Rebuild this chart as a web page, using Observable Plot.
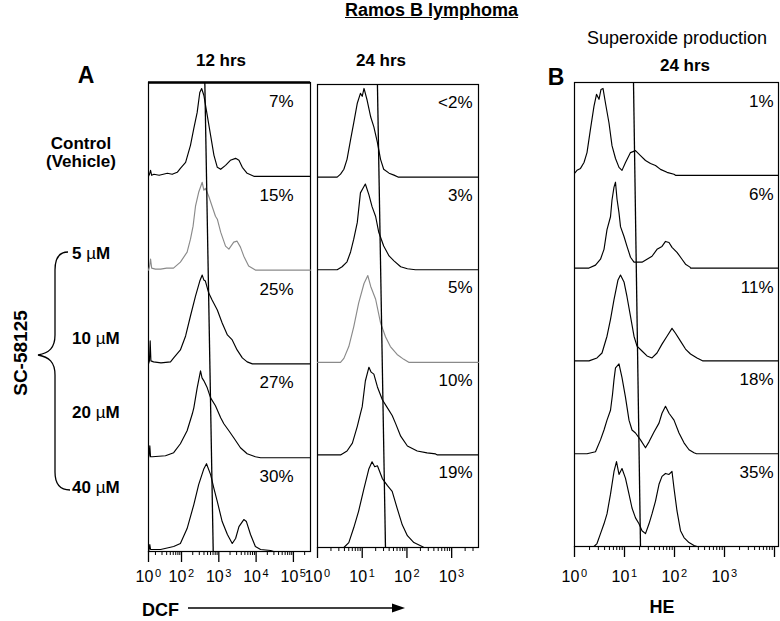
<!DOCTYPE html>
<html><head><meta charset="utf-8">
<script src="https://cdn.jsdelivr.net/npm/d3@7"></script>
<script src="https://cdn.jsdelivr.net/npm/@observablehq/plot@0.6"></script>
<style>
body{margin:0;background:#fff;}
#fig{position:relative;width:780px;height:621px;font-family:"Liberation Sans",Arial,Helvetica,sans-serif;color:#000;overflow:hidden;background:#fff}
.t{position:absolute;white-space:nowrap;line-height:1;transform:translate(-50%,-50%)}
.l{transform:translate(0,-50%)}
.b{font-weight:bold}
.p{position:absolute}
</style></head><body><div id="fig"></div>
<script>
// ---------------- DATA ----------------
// x = log10 position on each panel's axis (decades), h = relative cell count (row height = 94)
const conditions = ["Control (Vehicle)", "5 µM", "10 µM", "20 µM", "40 µM"];

// DCF, 12 hrs
const dcf12_control = [[0.115,0],[0.14,2],[0.17,6],[0.2,1],[0.26,2],[0.4,1],[0.62,3],[0.75,2],[0.885,4],[0.97,8],[1.11,14],[1.24,31],[1.33,48],[1.42,64],[1.49,84],[1.54,88],[1.60,81],[1.69,61],[1.78,41],[1.87,21],[1.96,9],[2.05,7],[2.18,11],[2.31,16],[2.45,18],[2.54,16],[2.63,9],[2.76,3],[2.94,0]];
const dcf12_5uM = [[0.115,0],[0.14,3],[0.17,11],[0.2,2],[0.3,1],[0.44,1],[0.6,2],[0.785,2],[0.97,8],[1.15,18],[1.24,31],[1.31,44],[1.375,64],[1.46,78],[1.555,88],[1.60,80],[1.64,82],[1.73,74],[1.82,64],[1.91,54],[1.96,51],[2.05,38],[2.18,24],[2.27,21],[2.40,28],[2.49,29],[2.58,23],[2.67,14],[2.80,4],[2.98,0]];
const dcf12_10uM = [[0.115,0],[0.14,3],[0.16,23],[0.18,3],[0.25,2],[0.45,1],[0.705,2],[0.79,6],[0.97,14],[1.11,28],[1.24,48],[1.375,68],[1.49,83],[1.555,89],[1.60,84],[1.64,83],[1.73,71],[1.82,64],[1.96,54],[2.09,41],[2.23,29],[2.36,24],[2.49,14],[2.63,6],[2.76,2],[2.90,0]];
const dcf12_20uM = [[0.115,0],[0.13,2],[0.15,12],[0.17,1],[0.22,1],[0.57,2],[0.79,5],[0.97,14],[1.15,27],[1.29,44],[1.33,50],[1.42,70],[1.51,87],[1.55,80],[1.60,77],[1.69,70],[1.78,60],[1.91,52],[2.05,40],[2.135,34],[2.27,27],[2.40,20],[2.58,10],[2.76,4],[2.98,1],[3.12,0]];
const dcf12_40uM = [[0.115,0],[0.13,2],[0.15,7],[0.17,2],[0.44,2],[0.79,5],[0.97,8],[1.15,23],[1.33,47],[1.46,67],[1.60,83],[1.67,88],[1.78,77],[1.87,63],[1.96,50],[2.09,30],[2.23,17],[2.36,8],[2.45,13],[2.54,25],[2.67,32],[2.74,30],[2.85,17],[2.98,5],[3.12,2],[3.39,1],[3.47,0]];
const pct12 = ["7%", "15%", "25%", "27%", "30%"];
const gate12 = [1.625, 1.85];
const ticks12 = [0.115, 1, 2, 3, 4];
const tickExp12 = ["0", "2", "3", "4", "5"];

// DCF, 24 hrs
const dcf24_control = [[0,0],[0.44,0],[0.515,3],[0.59,8],[0.66,18],[0.74,38],[0.81,55],[0.89,75],[0.96,85],[1.0,82],[1.04,90],[1.11,78],[1.19,61],[1.26,51],[1.34,35],[1.41,18],[1.48,8],[1.60,4],[1.71,2],[1.80,0]];
const dcf24_5uM = [[0,0],[0.44,0],[0.55,3],[0.66,8],[0.74,18],[0.81,31],[0.89,48],[0.96,78],[1.02,83],[1.07,87],[1.15,76],[1.22,64],[1.30,54],[1.37,38],[1.48,24],[1.60,14],[1.71,9],[1.86,3],[2.01,1],[2.19,0]];
const dcf24_10uM = [[0,0],[0.515,0],[0.59,4],[0.70,16],[0.81,36],[0.92,60],[1.04,80],[1.125,88],[1.19,77],[1.30,64],[1.41,40],[1.52,26],[1.63,16],[1.78,8],[1.93,3],[2.04,0]];
const dcf24_20uM = [[0,0],[0.515,0],[0.66,4],[0.78,12],[0.89,29],[0.96,42],[1.00,49],[1.07,75],[1.15,89],[1.20,84],[1.26,82],[1.34,69],[1.45,56],[1.56,48],[1.67,40],[1.745,32],[1.86,19],[2.01,9],[2.23,4],[2.45,2],[2.64,1],[2.68,0]];
const dcf24_40uM = [[0,0],[0.59,0],[0.70,5],[0.81,20],[0.92,37],[1.04,60],[1.15,80],[1.22,87],[1.28,82],[1.34,83],[1.45,70],[1.56,63],[1.67,57],[1.78,40],[1.895,23],[2.01,12],[2.155,5],[2.34,1],[2.38,0]];
const pct24 = ["<2%", "3%", "5%", "10%", "19%"];
const gate24 = [1.34, 1.52];
const ticks24 = [0, 1, 2, 3];
const tickExp24 = ["0", "1", "2", "3"];

// HE (superoxide), 24 hrs
const he_control = [[0,2],[0.05,5],[0.12,7],[0.19,13],[0.25,23],[0.32,47],[0.39,70],[0.44,82],[0.49,77],[0.53,87],[0.57,88],[0.62,73],[0.69,53],[0.75,30],[0.82,17],[0.89,8],[0.95,5],[1.02,13],[1.12,23],[1.22,25],[1.32,20],[1.42,15],[1.52,12],[1.62,10],[1.72,6],[1.85,3],[1.99,1],[2.02,0]];
const he_5uM = [[0,0],[0.29,0],[0.42,3],[0.52,9],[0.59,19],[0.65,39],[0.72,52],[0.75,69],[0.79,82],[0.82,87],[0.85,70],[0.89,56],[0.92,42],[0.99,32],[1.05,22],[1.12,11],[1.19,6],[1.35,6],[1.45,9],[1.55,12],[1.65,19],[1.75,22],[1.82,27],[1.89,26],[1.95,21],[2.05,16],[2.15,9],[2.22,4],[2.31,1],[2.32,0]];
const he_10uM = [[0,0],[0.29,0],[0.45,3],[0.55,8],[0.65,25],[0.72,42],[0.79,62],[0.87,82],[0.92,87],[0.99,80],[1.05,65],[1.12,45],[1.19,25],[1.25,15],[1.35,10],[1.45,5],[1.55,3],[1.65,8],[1.75,17],[1.85,25],[1.95,33],[2.02,28],[2.12,20],[2.22,12],[2.32,7],[2.45,3],[2.57,0]];
const he_20uM = [[0,0],[0.25,0],[0.42,2],[0.52,14],[0.59,24],[0.65,34],[0.72,44],[0.76,60],[0.79,75],[0.82,87],[0.89,91],[0.95,77],[1.02,57],[1.09,34],[1.15,24],[1.22,21],[1.32,14],[1.42,6],[1.49,12],[1.59,22],[1.69,31],[1.75,41],[1.82,48],[1.89,41],[1.99,34],[2.09,21],[2.19,11],[2.29,4],[2.39,1],[2.44,0]];
const he_40uM = [[0,0],[0.39,0],[0.45,3],[0.52,13],[0.59,23],[0.65,33],[0.72,53],[0.79,76],[0.84,86],[0.89,73],[0.95,79],[1.02,69],[1.09,53],[1.15,39],[1.22,29],[1.29,23],[1.35,16],[1.42,13],[1.49,23],[1.55,33],[1.62,46],[1.69,63],[1.75,71],[1.82,74],[1.89,73],[1.95,76],[1.99,59],[2.05,36],[2.12,16],[2.19,9],[2.29,4],[2.39,1],[2.45,0]];
const pctHE = ["1%", "6%", "11%", "18%", "35%"];
const gateHE = [1.18, 1.32];
const ticksHE = [0, 1, 2, 3, 4];
const tickExpHE = ["0", "1", "2", "3", ""];

// ---------------- RENDER ----------------
const FONT = '"Liberation Sans", Arial, Helvetica, sans-serif';
const R = 94;
const fig = document.getElementById("fig");

function panel(o) {
  const pts = [];
  o.series.forEach((s, k) => {
    const base = (4 - k) * R;
    s.forEach(([u, h]) => pts.push({u, y: base + h, k}));
    pts.push({u: o.domain[1], y: base, k});
  });
  const minors = [];
  for (let d = Math.floor(o.domain[0]); d <= Math.ceil(o.domain[1]); d++)
    for (let m = 2; m <= 9; m++) {
      const v = d + Math.log10(m);
      if (v > o.domain[0] && v < o.domain[1]) minors.push(v);
    }
  const tk = o.ticks.map((v, i) => ({v, e: o.exp[i]}));
  const marks = [
    Plot.frame({stroke: "#000", strokeWidth: 1.2}),
    Plot.axisX(o.ticks, {tickSize: 11, tickFormat: () => "", strokeWidth: 1.3}),
    Plot.axisX(minors, {tickSize: 4, tickFormat: () => "", strokeWidth: 1}),
    Plot.line(pts.filter(d => d.k !== o.gray), {x: "u", y: "y", z: "k", stroke: "#000", strokeWidth: 1.15}),
    Plot.line(pts.filter(d => d.k === o.gray), {x: "u", y: "y", z: "k", stroke: "#8a8a8a", strokeWidth: 1.15}),
    Plot.link([o.gate], {x1: d => d[0], x2: d => d[1], y1: 5 * R, y2: 0, stroke: "#000", strokeWidth: 1.3}),
    Plot.text(o.pcts.map((t, k) => ({t, y: (5 - k) * R})), {text: "t", y: "y", frameAnchor: "right", textAnchor: "end", dx: o.pctDx, dy: o.pctDy, fontSize: 17}),
    Plot.text(tk.filter(d => d.e !== ""), {x: "v", text: () => "10", frameAnchor: "bottom", dx: -4, dy: o.lblDy, fontSize: 16}),
    Plot.text(tk.filter(d => d.e !== ""), {x: "v", text: "e", frameAnchor: "bottom", dx: 9.5, dy: o.lblDy - 5, fontSize: 11})
  ];
  if (o.thickTop) marks.push(Plot.ruleY([5 * R], {stroke: "#000", strokeWidth: 2.6}));
  const svg = Plot.plot({
    width: o.w, height: o.h,
    marginLeft: o.ml, marginRight: o.mr, marginTop: o.mt, marginBottom: o.mb,
    x: {domain: o.domain, axis: null, label: null},
    y: {domain: [0, 5 * R], axis: null, label: null},
    style: {fontFamily: FONT, background: "none", overflow: "visible", color: "#000"},
    marks
  });
  svg.style.position = "absolute";
  svg.style.left = o.left + "px";
  svg.style.top = o.top + "px";
  svg.style.maxWidth = "none";
  fig.appendChild(svg);
}

// 12 hrs: frame x 148..310, y 82..551
panel({series: [dcf12_control, dcf12_5uM, dcf12_10uM, dcf12_20uM, dcf12_40uM], gray: 1,
  pcts: pct12, gate: gate12, ticks: ticks12, exp: tickExp12, domain: [0.115, 4.458],
  w: 182, h: 513, ml: 12, mr: 8, mt: 4, mb: 40, left: 136, top: 78,
  pctDx: -17, pctDy: 19, lblDy: 30, thickTop: true});
// 24 hrs: frame x 317..478, y 84..547
panel({series: [dcf24_control, dcf24_5uM, dcf24_10uM, dcf24_20uM, dcf24_40uM], gray: 2,
  pcts: pct24, gate: gate24, ticks: ticks24, exp: tickExp24, domain: [0, 3.6],
  w: 177, h: 513, ml: 8, mr: 8, mt: 6, mb: 44, left: 309, top: 78,
  pctDx: -6, pctDy: 18, lblDy: 34});
// HE: frame x 574..778, y 82..546
panel({series: [he_control, he_5uM, he_10uM, he_20uM, he_40uM], gray: -1,
  pcts: pctHE, gate: gateHE, ticks: ticksHE, exp: tickExpHE, domain: [0, 4.08],
  w: 218, h: 512, ml: 12, mr: 2, mt: 4, mb: 44, left: 562, top: 78,
  pctDx: -5, pctDy: 19, lblDy: 35});

// ---------------- TEXT & DECORATIONS ----------------
function label(txt, x, y, size, bold, left, extra) {
  const d = document.createElement("div");
  d.className = "t" + (bold ? " b" : "") + (left ? " l" : "");
  d.style.left = x + "px"; d.style.top = y + "px"; d.style.fontSize = size + "px";
  if (extra) Object.assign(d.style, extra);
  d.innerHTML = txt;
  fig.appendChild(d);
  return d;
}
label("Ramos B lymphoma", 345, 10, 18, true, true, {textDecoration: "underline"});
label("12 hrs", 221, 60, 17, true);
label("24 hrs", 381, 60, 17, true);
label("Superoxide production", 677, 38, 18);
label("24 hrs", 685, 65, 17, true);
label("A", 86, 75, 23, true);
label("B", 556, 77, 23, true);
label("Control", 81, 143, 17, true);
label("(Vehicle)", 81, 161, 17, true);
const mu = '<span style="font-weight:normal">µ</span>M';
label("5 " + mu, 72, 253, 17, true, true);
label("10 " + mu, 72, 338, 17, true, true);
label("20 " + mu, 72, 412, 17, true, true);
label("40 " + mu, 72, 487, 17, true, true);
label("SC-58125", 20, 353, 19, true, false, {transform: "translate(-50%,-50%) rotate(-90deg)"});
label("DCF", 142, 610, 18, true, true);
label("HE", 662, 607, 18, true);

const ns = "http://www.w3.org/2000/svg";
const deco = document.createElementNS(ns, "svg");
deco.setAttribute("width", 780); deco.setAttribute("height", 621);
deco.style.position = "absolute"; deco.style.left = "0"; deco.style.top = "0"; deco.style.pointerEvents = "none";
deco.innerHTML =
  '<path d="M68,252 C60,252 55,258 55,270 L55,335 C55,348 49,353 38,355 C49,357 55,362 55,375 L55,472 C55,484 60,490 70,490" fill="none" stroke="#000" stroke-width="1.3"/>' +
  '<line x1="188" y1="608" x2="394" y2="608" stroke="#000" stroke-width="1.3"/>' +
  '<polygon points="392,603.5 405,608 392,612.5" fill="#000"/>';
fig.appendChild(deco);
</script></body></html>
